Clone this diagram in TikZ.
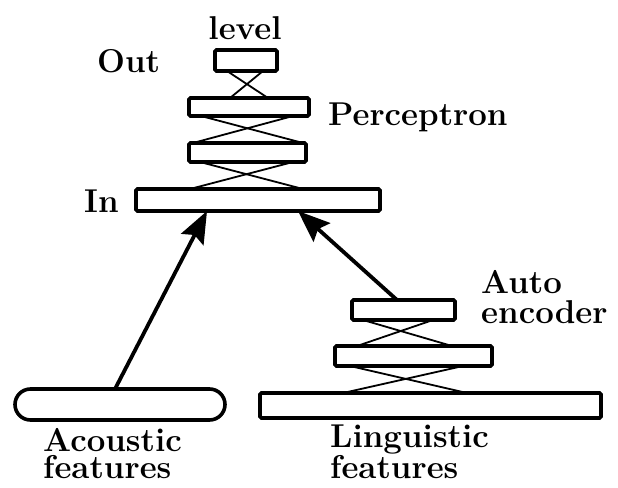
\documentclass[tikz,border=0pt]{standalone}
\usetikzlibrary{arrows.meta,calc}
\begin{document}
\begin{tikzpicture}[x=1pt,y=-1pt,
  box/.style={draw,line width=3.6pt,rounded corners=1.5pt,inner sep=0pt,outer sep=0pt},
  cross/.style={line width=1.8pt},
  arr/.style={line width=3.8pt,-{Stealth[length=32pt,width=25pt,inset=5pt]}},
  lbl/.style={inner sep=0pt,anchor=base west,align=left,font=\bfseries\fontsize{33}{27}\selectfont}]
\useasboundingbox (0,0) rectangle (618,487);
% perceptron stack
\node[box,minimum width=62pt,minimum height=21pt] (out) at (246,60.5) {};
\node[box,minimum width=120pt,minimum height=18pt] (p1) at (249,107) {};
\node[box,minimum width=117pt,minimum height=19pt] (p2) at (247.5,152.5) {};
\node[box,minimum width=244pt,minimum height=22pt] (in) at (258,200) {};
% auto encoder stack
\node[box,minimum width=103pt,minimum height=20pt] (ae1) at (403.5,310) {};
\node[box,minimum width=157pt,minimum height=20pt] (ae2) at (413.5,356) {};
\node[box,minimum width=341pt,minimum height=25pt] (ling) at (430.5,405.5) {};
% acoustic
\node[box,rounded corners=15.5pt,minimum width=210pt,minimum height=31pt] (ac) at (120,404.5) {};
% crossings
\draw[cross] ($(out.south west)+(12,0)$) -- ($(p1.north west)+(79,0)$);
\draw[cross] ($(out.south west)+(48,0)$) -- ($(p1.north west)+(41,0)$);
\draw[cross] ($(p1.south west)+(12,0)$) -- ($(p2.north west)+(114,0)$);
\draw[cross] ($(p1.south west)+(104,0)$) -- ($(p2.north west)+(4,0)$);
\draw[cross] ($(p2.south west)+(11,0)$) -- ($(in.north west)+(167,0)$);
\draw[cross] ($(p2.south west)+(104,0)$) -- ($(in.north west)+(54,0)$);
\draw[cross] ($(ae1.south west)+(11,0)$) -- ($(ae2.north west)+(117,0)$);
\draw[cross] ($(ae1.south west)+(81,0)$) -- ($(ae2.north west)+(22,0)$);
\draw[cross] ($(ae2.south west)+(15,0)$) -- ($(ling.north west)+(207,0)$);
\draw[cross] ($(ae2.south west)+(128,0)$) -- ($(ling.north west)+(83,0)$);
% arrows
\draw[arr] ($(ac.north west)+(100,0)$) -- ($(in.south west)+(71,0)$);
\draw[arr] ($(ae1.north west)+(45,0)$) -- ($(in.south west)+(162,0)$);
% labels
\node[lbl,anchor=base] (tlevel) at (245,40) {level};
\node[lbl] (tout) at (97,73) {Out};
\node[lbl] (tperc) at (328,125) {Perceptron};
\node[lbl] (tin) at (84,212) {In};
\node[lbl,font=\bfseries\fontsize{33}{30}\selectfont] (tauto) at (481,323) {Auto\\encoder};
\node[lbl] (tling) at (330,478) {Linguistic\\features};
\node[lbl] (tac) at (43,478) {Acoustic\\features};
\end{tikzpicture}
\end{document}
